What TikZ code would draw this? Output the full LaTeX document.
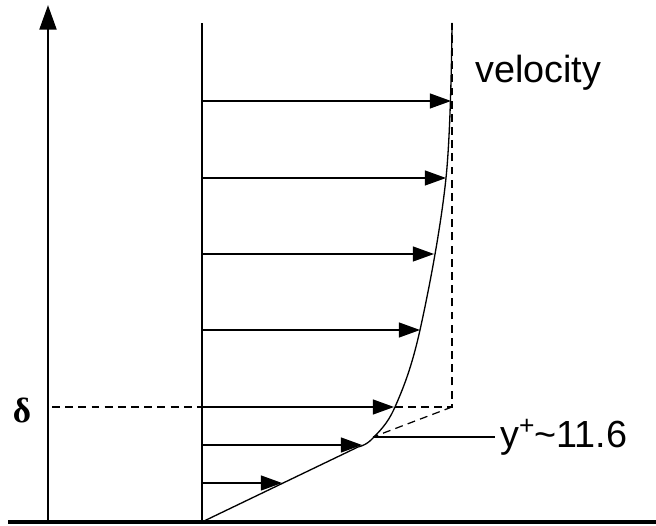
\documentclass[tikz,border=0pt]{standalone}
\usepackage{fontspec}
\setmainfont{Liberation Sans}
\newfontfamily\deltafont{Liberation Serif}
\usetikzlibrary{arrows.meta}
\begin{document}
\begin{tikzpicture}[x=0.02cm,y=-0.02cm,
  thin line/.style={line width=0.75pt},
  vel arrow/.style={line width=0.75pt,-{Triangle[length=12pt,width=8.5pt]}},
  dash line/.style={line width=0.7pt,dash pattern=on 4.5pt off 3pt},
  lbl/.style={font=\fontsize{21.5}{24}\selectfont,inner sep=0pt}]
\useasboundingbox (0,0) rectangle (656,526);
% axis and ground
\coordinate (axb) at (48,522);
\coordinate (axt) at (48,5);
\draw[line width=1.7pt,-{Triangle[length=14pt,width=9.5pt]}] (axb) -- (axt);
\coordinate (gl) at (8,522);
\coordinate (gr) at (656,522);
\draw[line width=2.2pt] (gl) -- (gr);
% wall
\coordinate (w0) at (202,522);
\coordinate (wt) at (202,23);
\draw[line width=0.9pt] (w0) -- (wt);
% profile
\coordinate (knee) at (358,447);
\draw[thin line] (w0) -- (knee)
  plot[smooth,tension=0.6] coordinates {(358,447) (372,439) (395,407) (420,330) (446,178) (452,23)};
% dashed
\coordinate (dl) at (52,407);
\coordinate (dr) at (452,407);
\coordinate (dt) at (452,23);
\coordinate (yp) at (373,437);
\draw[dash line] (dl) -- (dr) -- (dt);
\draw[dash line] (dr) -- (yp);
% velocity arrows
\foreach \y/\x [count=\i] in {101/451,178/446,254/434,330/420,407/394,445/362,483/282}{
  \coordinate (s\i) at (202,\y);
  \coordinate (e\i) at (\x,\y);
  \draw[vel arrow] (s\i) -- (e\i);
}
% y+ label
\coordinate (ylend) at (495,437);
\draw[line width=1pt] (yp) -- (ylend);
\node[lbl,anchor=base west] (yplus) at (500,448) {y\textsuperscript{+}\kern-0.5pt\char"7E 11.6};
\node[lbl,anchor=base west] (vel) at (475,83) {velocity};
\node[inner sep=0pt,font=\deltafont\bfseries\fontsize{20}{24}\selectfont] (delta) at (22,410) {δ};
\end{tikzpicture}
\end{document}
